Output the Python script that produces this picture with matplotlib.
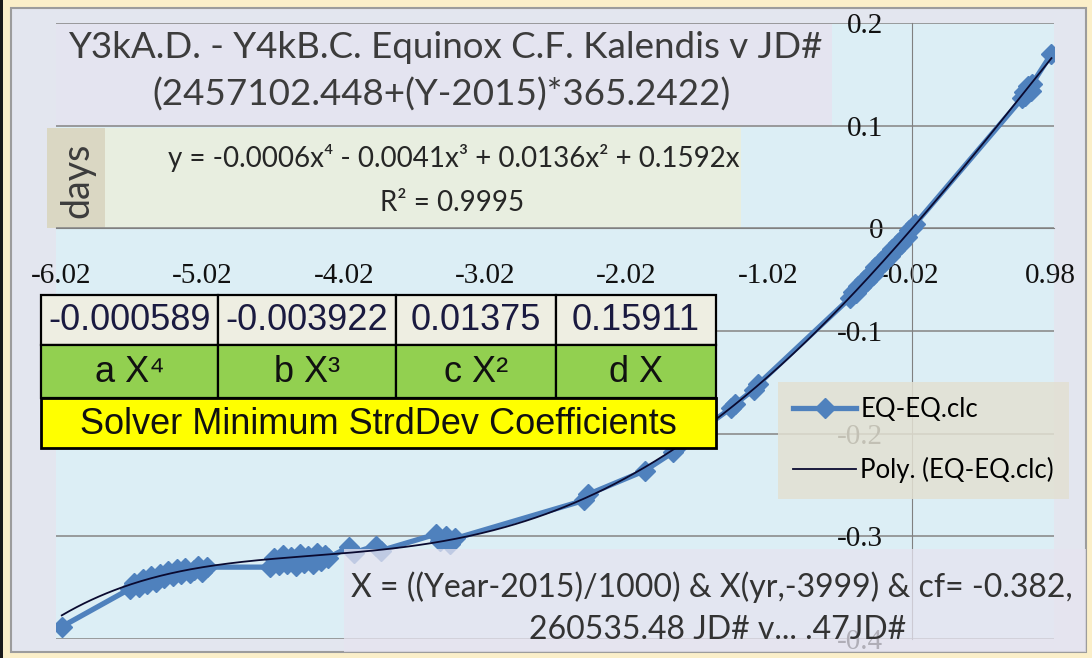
import numpy as np
import matplotlib
matplotlib.use("Agg")
import matplotlib.pyplot as plt
from matplotlib.patches import Rectangle

# ---------------- data ----------------
x_data = [-6.014,
          -5.53, -5.50, -5.47, -5.44, -5.41, -5.38, -5.35, -5.32, -5.29, -5.26,
          -5.23, -5.20, -5.17, -5.14, -5.11, -5.08, -5.05, -5.02, -4.99,
          -4.54, -4.51, -4.48, -4.45, -4.42, -4.39, -4.36, -4.33, -4.30, -4.27,
          -4.24, -4.21, -4.18, -4.15, -4.13,
          -3.98, -3.95, -3.79, -3.76,
          -3.37, -3.34, -3.30, -3.27, -3.23,
          -2.32, -2.29, -1.89, -1.69, -1.66, -1.28, -1.25, -1.12, -1.09,
          -0.44, -0.42, -0.40, -0.38, -0.36, -0.34, -0.32, -0.30, -0.28, -0.26,
          -0.24, -0.22, -0.20, -0.18, -0.16, -0.14, -0.12, -0.10, -0.08, -0.06,
          -0.04, -0.02, 0.00, 0.02,
          0.78, 0.79, 0.80, 0.82, 0.84, 0.85, 0.985]
y_data = [-0.388,
          -0.351, -0.345, -0.349, -0.342, -0.346, -0.339, -0.344, -0.337, -0.341, -0.334,
          -0.339, -0.332, -0.337, -0.331, -0.336, -0.333, -0.329, -0.335, -0.330,
          -0.330, -0.321, -0.328, -0.318, -0.327, -0.320, -0.329, -0.317, -0.326, -0.319,
          -0.327, -0.316, -0.324, -0.318, -0.321,
          -0.310, -0.316, -0.309, -0.314,
          -0.298, -0.305, -0.300, -0.307, -0.302,
          -0.265, -0.259, -0.236, -0.218, -0.213, -0.175, -0.171, -0.157, -0.152,
          -0.068, -0.062, -0.063, -0.056, -0.057, -0.050, -0.051, -0.044, -0.045, -0.038,
          -0.039, -0.032, -0.033, -0.026, -0.027, -0.020, -0.021, -0.014, -0.015, -0.008,
          -0.008, -0.002, 0.000, 0.004,
          0.127, 0.133, 0.129, 0.139, 0.134, 0.141, 0.170]

coef_text = ["-0.000589", "-0.003922", "0.01375", "0.15911"]
coef_values = [-0.000589, -0.003922, 0.01375, 0.15911, 0.0]
coef_labels = ["a X\u2074", "b X\u00b3", "c X\u00b2", "d X"]
table_caption = "Solver Minimum StrdDev Coefficients"

x_ticks = [-6.02, -5.02, -4.02, -3.02, -2.02, -1.02, -0.02, 0.98]
y_ticks = [-0.4, -0.3, -0.2, -0.1, 0.0, 0.1, 0.2]
y_tick_labels = ["-0.4", "-0.3", "-0.2", "-0.1", "0", "0.1", "0.2"]

title_lines = ["Y3kA.D. - Y4kB.C. Equinox C.F. Kalendis v JD#",
               "(2457102.448+(Y-2015)*365.2422)"]
equation_lines = ["y = -0.0006x\u2074 - 0.0041x\u00b3 + 0.0136x\u00b2 + 0.1592x",
                  "R\u00b2 = 0.9995"]
note_lines = ["X = ((Year-2015)/1000) & X(yr,-3999) & cf= -0.382,",
              "260535.48 JD# v... .47JD#"]
y_label = "days"
series_name = "EQ-EQ.clc"
trend_name = "Poly. (EQ-EQ.clc)"

# ---------------- figure ----------------
W, H = 1092, 658
fig = plt.figure(figsize=(W / 100, H / 100), dpi=100)
fig.patch.set_facecolor("#FBEFC9")

SANS = ["Lato", "DejaVu Sans"]
ARIAL = ["Liberation Sans", "DejaVu Sans"]
SERIF = ["Liberation Serif", "DejaVu Serif"]


def R(x0, y0, x1, y1, **kw):
    return Rectangle((x0 / W, 1 - y1 / H), (x1 - x0) / W, (y1 - y0) / H,
                     transform=fig.transFigure, **kw)


fig.patches.append(R(0, 0, 3, H, facecolor="#1a1a1a", edgecolor="none", zorder=-5))
fig.patches.append(R(11, 8, 1086, 652, facecolor="#E3E6EF", edgecolor="#9C9C9C", lw=1.5, zorder=-5))

PL, PR, PT, PB = 56, 1054, 23, 639
ax = fig.add_axes([PL / W, 1 - PB / H, (PR - PL) / W, (PB - PT) / H])


def T(px, py, s, **kw):
    return ax.text(px / W, 1 - py / H, s, transform=fig.transFigure, clip_on=False, **kw)


ax.set_facecolor("#DCEEF5")
ax.set_xlim(-6.055, 1.003)
ax.set_ylim(-0.4, 0.2)
for s in ["top", "right"]:
    ax.spines[s].set_visible(False)
ax.spines["left"].set_position(("data", 0))
ax.spines["bottom"].set_position(("data", 0))
ax.spines["left"].set_color("#808080")
ax.spines["bottom"].set_color("#808080")
ax.set_xticks(x_ticks)
ax.set_xticklabels([f"{v:.2f}" for v in x_ticks])
ax.set_yticks(y_ticks)
ax.set_yticklabels(y_tick_labels)
ax.tick_params(axis="x", length=0, pad=25, labelsize=21, labelcolor="#111111")
ax.tick_params(axis="y", length=0, pad=21, labelsize=21, labelcolor="#111111")
for lab in ax.get_xticklabels() + ax.get_yticklabels():
    lab.set_fontfamily(SERIF)
ax.yaxis.grid(True, color="#8C8C8C", lw=1.2)
ax.set_axisbelow("line")

# overlay boxes
ax.add_patch(R(56, 23, 832, 127, facecolor="#E4E4F0", edgecolor="none", zorder=0.8, clip_on=False))
ax.add_patch(R(47, 128, 105, 228, facecolor="#DAD7C3", edgecolor="none", zorder=0.8, clip_on=False))
ax.add_patch(R(105, 128, 741, 228, facecolor="#E8EEE0", edgecolor="none", zorder=0.8, clip_on=False))

# data
ax.plot(x_data, y_data, color="#4F81BD", lw=3.8, marker="D", ms=10,
        mfc="#4F81BD", mec="#4F81BD", zorder=3, label=series_name)
xs = np.linspace(min(x_data), max(x_data), 400)
ax.plot(xs, np.polyval(coef_values, xs), color="#0A0A30", lw=1.3, zorder=4, label=trend_name)

# bottom note box
ax.add_patch(R(344, 549, 1086, 652, facecolor="#E6E4F0", edgecolor="none", alpha=0.75,
               zorder=3.5, clip_on=False))

# texts
T(445, 47, title_lines[0], fontsize=26.5, family=SANS, color="#3C3C3C", ha="center", va="center", zorder=6)
T(442, 95, title_lines[1], fontsize=26.5, family=SANS, color="#3C3C3C", ha="center", va="center", zorder=6)
T(77, 180, y_label, fontsize=27, family=SANS, color="#3C3C3C", rotation=90, ha="center", va="center", zorder=6)
T(454, 158, equation_lines[0], fontsize=20, family=SANS, color="#262626", ha="center", va="center", zorder=6)
T(452, 203, equation_lines[1], fontsize=20, family=SANS, color="#262626", ha="center", va="center", zorder=6)
T(712, 587, note_lines[0], fontsize=23, family=SANS, color="#333333", ha="center", va="center", zorder=6)
T(718, 630, note_lines[1], fontsize=23, family=SANS, color="#333333", ha="center", va="center", zorder=6)

# coefficient table
cols = [41, 218, 396, 556, 716]
rows = [295, 345, 398, 448]
for i in range(4):
    ax.add_patch(R(cols[i], rows[0], cols[i + 1], rows[1], facecolor="#EEEEE2",
                   edgecolor="#000000", lw=1.6, zorder=7, clip_on=False))
    T((cols[i] + cols[i + 1]) / 2, (rows[0] + rows[1]) / 2 + 1, coef_text[i], fontsize=26,
      family=ARIAL, color="#1A1A40", ha="center", va="center", zorder=8)
    ax.add_patch(R(cols[i], rows[1], cols[i + 1], rows[2], facecolor="#92D050",
                   edgecolor="#000000", lw=1.6, zorder=7, clip_on=False))
    T((cols[i] + cols[i + 1]) / 2, (rows[1] + rows[2]) / 2 + 1, coef_labels[i], fontsize=26,
      family=ARIAL, color="#111111", ha="center", va="center", zorder=8)
ax.add_patch(R(cols[0], rows[2], cols[-1], rows[3], facecolor="#FFFF00",
               edgecolor="#000000", lw=2.0, zorder=7, clip_on=False))
T((cols[0] + cols[-1]) / 2, (rows[2] + rows[3]) / 2 + 1, table_caption, fontsize=26,
  family=ARIAL, color="#111111", ha="center", va="center", zorder=8)

# legend
leg = ax.legend(loc="upper left", bbox_to_anchor=(778 / W, 1 - 382 / H),
                bbox_transform=fig.transFigure, frameon=True, fancybox=False,
                facecolor="#E2E0D2", edgecolor="none", framealpha=0.85,
                prop={"family": SANS, "size": 18.5}, handlelength=2.45,
                handletextpad=0.15, labelspacing=1.35, borderpad=0.6, borderaxespad=0)
leg.set_zorder(6)

fig.savefig("out.png", dpi=100, facecolor=fig.get_facecolor())
